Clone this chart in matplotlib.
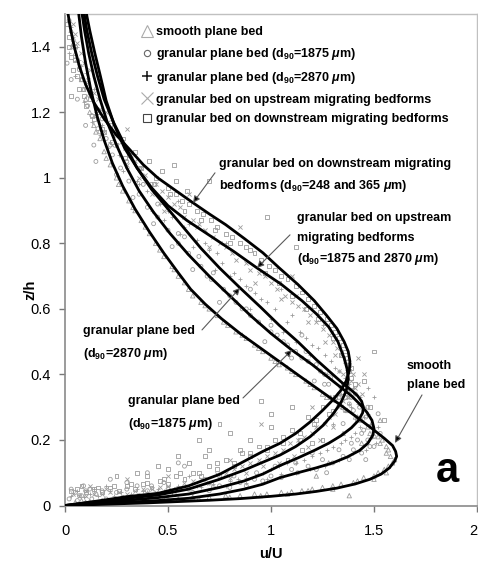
import matplotlib
matplotlib.use("Agg")
import matplotlib.pyplot as plt
from matplotlib.lines import Line2D

plt.rcParams['font.family'] = ['Liberation Sans', 'DejaVu Sans']
plt.rcParams['mathtext.fontset'] = 'custom'
plt.rcParams['mathtext.rm'] = 'Liberation Sans:bold'
plt.rcParams['mathtext.it'] = 'Liberation Sans:italic:bold'
plt.rcParams['mathtext.bf'] = 'Liberation Sans:bold'

# ---------------- fitted profile curves (u/U, z/h) ----------------
smooth_u = [0, 0.1, 0.25, 0.4, 0.55, 0.7, 0.85, 1.0, 1.12, 1.22, 1.32, 1.41, 1.48, 1.535, 1.575, 1.60, 1.61, 1.605, 1.59,
            1.55, 1.49, 1.42, 1.33, 1.24, 1.15, 1.05, 0.95, 0.85, 0.76, 0.68, 0.61, 0.55, 0.48, 0.41, 0.34, 0.28, 0.23,
            0.19, 0.155, 0.125, 0.10, 0.08, 0.063]
smooth_z = [0, 0.002, 0.005, 0.008, 0.012, 0.016, 0.021, 0.028, 0.035, 0.043, 0.053, 0.066, 0.08, 0.096, 0.115, 0.135, 0.15, 0.165, 0.183,
            0.205, 0.235, 0.268, 0.31, 0.35, 0.39, 0.435, 0.48, 0.525, 0.57, 0.615, 0.66, 0.71, 0.77, 0.835, 0.905, 0.975, 1.045,
            1.115, 1.19, 1.27, 1.35, 1.43, 1.52]

gp1875_u = [0, 0.15, 0.3, 0.45, 0.6, 0.75, 0.87, 0.96, 1.044, 1.13, 1.22, 1.30, 1.37, 1.43, 1.47, 1.495, 1.50, 1.49, 1.465,
            1.43, 1.39, 1.34, 1.28, 1.20, 1.10, 1.0, 0.90, 0.80, 0.70, 0.60, 0.51, 0.43, 0.36, 0.30, 0.25, 0.205, 0.17,
            0.14, 0.115, 0.095, 0.078]
gp1875_z = [0, 0.005, 0.01, 0.015, 0.022, 0.035, 0.05, 0.065, 0.085, 0.10, 0.115, 0.13, 0.148, 0.168, 0.19, 0.215, 0.235, 0.26, 0.285,
            0.31, 0.335, 0.36, 0.39, 0.43, 0.475, 0.525, 0.58, 0.64, 0.70, 0.765, 0.83, 0.895, 0.96, 1.03, 1.10, 1.17, 1.24,
            1.31, 1.38, 1.45, 1.52]

gp2870_u = [0, 0.15, 0.3, 0.45, 0.6, 0.75, 0.87, 0.96, 1.044, 1.13, 1.21, 1.28, 1.34, 1.39, 1.425, 1.445, 1.448, 1.44, 1.42,
            1.39, 1.35, 1.30, 1.22, 1.13, 1.04, 0.95, 0.85, 0.75, 0.66, 0.58, 0.50, 0.42, 0.35, 0.29, 0.235, 0.19, 0.158,
            0.13, 0.106, 0.088]
gp2870_z = [0, 0.008, 0.016, 0.024, 0.035, 0.055, 0.075, 0.096, 0.122, 0.145, 0.168, 0.19, 0.213, 0.237, 0.26, 0.283, 0.30, 0.318, 0.335,
            0.352, 0.372, 0.40, 0.445, 0.50, 0.55, 0.605, 0.664, 0.725, 0.785, 0.845, 0.905, 0.965, 1.03, 1.10, 1.17, 1.24, 1.31,
            1.38, 1.45, 1.52]

upstr_u = [0, 0.15, 0.3, 0.45, 0.6, 0.75, 0.87, 0.96, 1.044, 1.12, 1.19, 1.25, 1.30, 1.34, 1.365, 1.375, 1.37, 1.355, 1.325,
           1.28, 1.22, 1.15, 1.05, 0.932, 0.82, 0.70, 0.592, 0.50, 0.42, 0.35, 0.29, 0.24, 0.20, 0.172, 0.145, 0.12, 0.098]
upstr_z = [0, 0.011, 0.022, 0.032, 0.05, 0.08, 0.108, 0.132, 0.154, 0.18, 0.21, 0.243, 0.278, 0.315, 0.35, 0.385, 0.415, 0.45, 0.50,
           0.545, 0.585, 0.625, 0.675, 0.725, 0.775, 0.825, 0.87, 0.915, 0.97, 1.03, 1.09, 1.16, 1.235, 1.31, 1.38, 1.45, 1.52]

downstr_u = [0, 0.15, 0.3, 0.45, 0.6, 0.75, 0.87, 0.96, 1.044, 1.12, 1.19, 1.25, 1.30, 1.34, 1.365, 1.38, 1.383, 1.375, 1.355,
             1.32, 1.27, 1.21, 1.13, 1.04, 0.961, 0.87, 0.78, 0.70, 0.621, 0.54, 0.45, 0.38, 0.316, 0.25, 0.19, 0.14, 0.10,
             0.07, 0.045, 0.025, 0.01]
downstr_z = [0, 0.013, 0.027, 0.037, 0.06, 0.095, 0.135, 0.165, 0.19, 0.22, 0.255, 0.29, 0.322, 0.352, 0.38, 0.41, 0.44, 0.47, 0.50,
             0.54, 0.58, 0.625, 0.675, 0.725, 0.771, 0.815, 0.857, 0.89, 0.924, 0.96, 1.0, 1.04, 1.085, 1.13, 1.18, 1.23, 1.285,
             1.34, 1.40, 1.46, 1.52]

# ---------------- measured data (u/U, z/h) ----------------
tri_u = [0.03, 0.05, 0.08, 0.10, 0.14, 0.19, 0.25, 0.31, 0.37, 0.44, 0.52, 0.58, 0.66, 0.74, 0.83, 0.92, 1.00, 1.08, 1.17, 1.25,
         1.33, 1.41, 1.47, 1.52, 1.56, 1.58, 1.57, 1.52, 1.45, 1.38, 1.30, 1.20, 1.10, 0.98, 0.85, 0.70, 0.55, 0.40, 0.25, 0.12, 0.05,
         1.44, 1.35, 1.28, 1.53, 1.22,
         0.04, 0.07, 0.12, 0.17, 0.22, 0.28, 0.34, 0.41, 0.48, 0.55, 0.62, 0.70, 0.79, 0.88, 0.96, 1.04, 1.12, 1.21, 1.29, 1.37,
         1.44, 1.50, 1.54, 1.57, 1.59, 1.55, 1.50, 1.42, 1.34, 1.25, 1.15, 1.05, 0.92, 0.78, 0.62, 0.48, 0.32, 0.18, 0.08,
         0.02, 0.06, 0.09, 0.15, 0.20, 0.26, 0.33, 0.39, 0.46, 0.53, 0.60, 0.68, 0.77, 0.86, 0.94, 1.02, 1.10, 1.19, 1.27, 1.35,
         1.42, 1.48, 1.53, 1.56, 1.60, 1.56, 1.50, 1.40, 1.30, 1.18, 1.08, 0.95, 0.80, 0.65, 0.50, 0.35, 0.20, 0.10]
tri_z = [1.45, 1.38, 1.30, 1.24, 1.16, 1.08, 1.00, 0.93, 0.87, 0.80, 0.73, 0.68, 0.62, 0.58, 0.53, 0.49, 0.45, 0.42, 0.38, 0.34,
         0.31, 0.27, 0.24, 0.21, 0.18, 0.15, 0.12, 0.10, 0.085, 0.03, 0.06, 0.05, 0.042, 0.035, 0.03, 0.025, 0.02, 0.018, 0.015, 0.012, 0.01,
         0.19, 0.22, 0.13, 0.26, 0.09,
         1.41, 1.34, 1.20, 1.12, 1.04, 0.96, 0.90, 0.83, 0.76, 0.70, 0.64, 0.60, 0.55, 0.51, 0.47, 0.43, 0.40, 0.36, 0.33, 0.29,
         0.26, 0.23, 0.20, 0.17, 0.13, 0.11, 0.09, 0.075, 0.065, 0.055, 0.045, 0.04, 0.035, 0.03, 0.025, 0.02, 0.02, 0.015, 0.015,
         1.48, 1.36, 1.27, 1.14, 1.06, 0.98, 0.91, 0.85, 0.78, 0.72, 0.66, 0.61, 0.56, 0.52, 0.48, 0.44, 0.41, 0.37, 0.33, 0.30,
         0.27, 0.22, 0.19, 0.16, 0.14, 0.10, 0.08, 0.07, 0.05, 0.045, 0.035, 0.03, 0.025, 0.02, 0.02, 0.015, 0.012, 0.01]

circ_u = [0.02, 0.04, 0.05, 0.07, 0.09, 0.11, 0.13, 0.16, 0.20, 0.23, 0.27, 0.31, 0.36, 0.40, 0.45, 0.50, 0.55, 0.60, 0.66, 0.71,
          0.77, 0.83, 0.88, 0.94, 1.00, 1.06, 1.12, 1.18, 1.24, 1.29, 1.34, 1.39, 1.43, 1.46, 1.49, 1.50, 1.48, 1.44, 1.38, 1.30,
          1.22, 1.13, 1.05, 0.96, 0.88, 0.80, 0.70, 0.62, 0.53, 0.45, 0.36, 0.28, 0.20, 0.13, 0.06, 0.02,
          0.15, 0.42, 0.62, 0.90, 1.15, 1.35, 1.52, 1.42, 0.35, 0.10, 0.48, 1.40, 1.33, 1.26, 0.75, 0.58, 0.03, 0.08,
          0.05, 0.08, 0.12, 0.18, 0.22, 0.30, 0.38, 0.45, 0.55, 0.65, 0.72, 0.80, 0.90, 1.00, 1.08, 1.15, 1.22, 1.28, 1.33, 1.38,
          1.42, 1.45, 1.47, 1.40, 1.35, 1.25, 1.18, 1.10, 1.00, 0.92, 0.85, 0.75, 0.68, 0.50, 0.40, 0.25, 0.15, 0.07, 0.12, 0.30,
          0.01, 0.03, 0.06, 0.10, 0.14, 0.17, 0.25, 0.33, 0.43, 0.52, 0.58, 0.69, 0.75, 0.86, 0.97, 1.03, 1.10, 1.17, 1.21, 1.26,
          1.31, 1.36, 1.41, 1.44, 1.47, 1.50, 1.53, 1.46, 1.39, 1.33, 1.27, 1.20, 1.12, 1.02, 0.93, 0.82, 0.72, 0.60, 0.42, 0.30,
          0.18, 0.09, 0.05, 0.22, 0.40, 0.55]
circ_z = [1.48, 1.42, 1.36, 1.33, 1.27, 1.22, 1.19, 1.15, 1.12, 1.07, 1.03, 0.99, 0.95, 0.91, 0.88, 0.84, 0.80, 0.77, 0.73, 0.69,
          0.66, 0.62, 0.60, 0.56, 0.53, 0.50, 0.47, 0.44, 0.41, 0.39, 0.36, 0.33, 0.30, 0.27, 0.24, 0.21, 0.18, 0.16, 0.14, 0.13,
          0.11, 0.10, 0.085, 0.075, 0.06, 0.055, 0.045, 0.04, 0.035, 0.03, 0.03, 0.025, 0.02, 0.02, 0.015, 0.02,
          1.05, 0.98, 0.72, 0.66, 0.52, 0.25, 0.28, 0.20, 0.06, 0.045, 0.07, 0.29, 0.33, 0.37, 0.09, 0.12, 0.05, 0.03,
          1.40, 1.30, 1.25, 1.18, 1.10, 1.05, 0.98, 0.92, 0.83, 0.76, 0.71, 0.64, 0.58, 0.55, 0.49, 0.45, 0.43, 0.37, 0.34, 0.31,
          0.26, 0.23, 0.20, 0.17, 0.15, 0.14, 0.12, 0.11, 0.09, 0.08, 0.07, 0.06, 0.08, 0.05, 0.045, 0.04, 0.035, 0.03, 0.05, 0.07,
          1.35, 1.30, 1.24, 1.16, 1.10, 1.14, 1.01, 0.94, 0.86, 0.79, 0.82, 0.70, 0.62, 0.60, 0.50, 0.52, 0.45, 0.47, 0.38, 0.40,
          0.32, 0.29, 0.34, 0.22, 0.30, 0.18, 0.22, 0.14, 0.19, 0.17, 0.10, 0.16, 0.13, 0.12, 0.10, 0.09, 0.055, 0.05, 0.06, 0.05,
          0.045, 0.06, 0.04, 0.08, 0.10, 0.13]

plus_u = [0.03, 0.06, 0.08, 0.10, 0.12, 0.15, 0.18, 0.22, 0.26, 0.30, 0.35, 0.40, 0.46, 0.52, 0.58, 0.64, 0.70, 0.76, 0.82, 0.88,
          0.95, 1.02, 1.08, 1.14, 1.20, 1.26, 1.31, 1.36, 1.40, 1.43, 1.45, 1.45, 1.43, 1.39, 1.34, 1.27, 1.20, 1.12, 1.04, 0.96,
          0.88, 0.80, 0.72, 0.64, 0.56, 0.48, 0.40, 0.32, 0.24, 0.16, 0.09, 0.03,
          0.25, 0.55, 0.78, 1.05, 1.25, 1.50, 1.52, 1.30, 0.60, 0.20, 1.38, 1.47,
          0.04, 0.07, 0.10, 0.14, 0.19, 0.24, 0.32, 0.38, 0.44, 0.50, 0.60, 0.68, 0.74, 0.85, 0.92, 0.98, 1.10, 1.17, 1.23, 1.29,
          1.33, 1.38, 1.42, 1.47, 1.48, 1.41, 1.36, 1.30, 1.24, 1.16, 1.08, 1.00, 0.92, 0.84, 0.70, 0.55, 0.45, 0.35, 0.22, 0.12,
          0.02, 0.05, 0.09, 0.13, 0.17, 0.21, 0.28, 0.36, 0.42, 0.48, 0.56, 0.62, 0.73, 0.80, 0.90, 1.00, 1.06, 1.12, 1.19, 1.27,
          1.34, 1.39, 1.44, 1.49, 1.51, 1.46, 1.40, 1.33, 1.26, 1.19, 1.12, 1.05, 0.98, 0.88, 0.78, 0.66, 0.52, 0.38, 0.27, 0.14, 0.06]
plus_z = [1.46, 1.40, 1.34, 1.29, 1.25, 1.20, 1.16, 1.11, 1.07, 1.03, 0.99, 0.96, 0.92, 0.88, 0.85, 0.81, 0.78, 0.74, 0.71, 0.67,
          0.63, 0.60, 0.56, 0.53, 0.49, 0.46, 0.42, 0.39, 0.36, 0.33, 0.30, 0.27, 0.24, 0.21, 0.19, 0.17, 0.15, 0.13, 0.12, 0.10,
          0.085, 0.075, 0.065, 0.06, 0.05, 0.045, 0.04, 0.035, 0.03, 0.03, 0.025, 0.03,
          1.13, 0.93, 0.80, 0.66, 0.55, 0.33, 0.24, 0.25, 0.09, 0.06, 0.31, 0.36,
          1.43, 1.36, 1.32, 1.27, 1.19, 1.13, 1.06, 1.00, 0.95, 0.90, 0.86, 0.80, 0.77, 0.69, 0.65, 0.62, 0.58, 0.51, 0.48, 0.44,
          0.41, 0.37, 0.31, 0.28, 0.25, 0.22, 0.20, 0.18, 0.16, 0.14, 0.13, 0.11, 0.09, 0.08, 0.07, 0.06, 0.05, 0.05, 0.045, 0.035,
          1.38, 1.31, 1.23, 1.17, 1.13, 1.09, 1.02, 0.98, 0.90, 0.87, 0.83, 0.79, 0.72, 0.70, 0.60, 0.57, 0.53, 0.50, 0.46, 0.40,
          0.34, 0.30, 0.26, 0.21, 0.19, 0.17, 0.16, 0.14, 0.12, 0.11, 0.10, 0.095, 0.08, 0.07, 0.06, 0.055, 0.04, 0.045, 0.04, 0.05, 0.045]

x_u = [0.04, 0.06, 0.09, 0.11, 0.14, 0.17, 0.21, 0.25, 0.29, 0.34, 0.39, 0.44, 0.50, 0.56, 0.62, 0.68, 0.75, 0.81, 0.88, 0.94,
       1.00, 1.07, 1.13, 1.19, 1.25, 1.30, 1.34, 1.37, 1.39, 1.38, 1.35, 1.31, 1.26, 1.20, 1.13, 1.06, 0.98, 0.90, 0.82, 0.74,
       0.66, 0.58, 0.50, 0.42, 0.34, 0.26, 0.18, 0.10, 0.04,
       0.30, 0.60, 0.85, 1.10, 1.42, 1.45, 1.20, 0.95, 0.30, 0.12, 1.44, 1.33,
       0.05, 0.08, 0.12, 0.16, 0.20, 0.27, 0.32, 0.37, 0.47, 0.53, 0.65, 0.72, 0.78, 0.90, 0.97, 1.03, 1.10, 1.16, 1.22, 1.28,
       1.32, 1.36, 1.40, 1.41, 1.37, 1.33, 1.28, 1.22, 1.16, 1.09, 1.02, 0.94, 0.86, 0.78, 0.62, 0.46, 0.38, 0.22, 0.14, 0.07,
       0.03, 0.07, 0.10, 0.15, 0.19, 0.23, 0.30, 0.36, 0.42, 0.48, 0.58, 0.64, 0.70, 0.83, 0.92, 1.05, 1.12, 1.18, 1.26, 1.31,
       1.35, 1.38, 1.42, 1.36, 1.30, 1.24, 1.18, 1.11, 1.04, 0.96, 0.88, 0.80, 0.70, 0.54, 0.44, 0.30, 0.20, 0.10, 0.50, 0.80]
x_z = [1.47, 1.41, 1.35, 1.30, 1.26, 1.21, 1.17, 1.13, 1.09, 1.05, 1.01, 0.98, 0.94, 0.91, 0.87, 0.84, 0.80, 0.77, 0.74, 0.71,
       0.68, 0.64, 0.61, 0.58, 0.54, 0.50, 0.46, 0.42, 0.38, 0.35, 0.32, 0.28, 0.25, 0.22, 0.20, 0.17, 0.15, 0.13, 0.11, 0.095,
       0.08, 0.07, 0.06, 0.05, 0.045, 0.04, 0.035, 0.03, 0.035,
       1.15, 0.95, 0.85, 0.70, 0.45, 0.40, 0.30, 0.25, 0.08, 0.06, 0.34, 0.41,
       1.44, 1.38, 1.33, 1.24, 1.20, 1.11, 1.07, 1.03, 0.96, 0.92, 0.86, 0.82, 0.79, 0.72, 0.70, 0.66, 0.62, 0.60, 0.56, 0.52,
       0.48, 0.44, 0.40, 0.36, 0.33, 0.30, 0.27, 0.24, 0.21, 0.19, 0.16, 0.14, 0.12, 0.10, 0.075, 0.055, 0.05, 0.04, 0.035, 0.03,
       1.40, 1.34, 1.28, 1.19, 1.14, 1.10, 1.04, 1.00, 0.95, 0.90, 0.88, 0.85, 0.79, 0.75, 0.68, 0.63, 0.64, 0.56, 0.50, 0.46,
       0.40, 0.33, 0.37, 0.29, 0.24, 0.20, 0.18, 0.15, 0.13, 0.12, 0.10, 0.085, 0.07, 0.05, 0.04, 0.035, 0.05, 0.045, 0.09, 0.14]

sq_u = [0.01, 0.02, 0.04, 0.07, 0.10, 0.14, 0.19, 0.25, 0.31, 0.37, 0.44, 0.50, 0.57, 0.64, 0.71, 0.78, 0.85, 0.92, 0.99, 1.05,
        1.12, 1.18, 1.24, 1.29, 1.33, 1.36, 1.38, 1.39, 1.37, 1.33, 1.28, 1.21, 1.14, 1.06, 0.98, 0.90, 0.82, 0.74, 0.66, 0.58,
        0.50, 0.42, 0.34, 0.26, 0.18, 0.10, 0.03,
        0.03, 0.53, 0.54, 0.59, 0.70, 0.98, 1.12, 1.50, 0.95, 1.00, 1.10, 0.90, 0.85, 0.70, 0.65, 0.55, 0.45, 0.35, 1.55, 1.08,
        0.02, 0.05, 0.08, 0.12, 0.16, 0.22, 0.28, 0.34, 0.41, 0.47, 0.54, 0.60, 0.67, 0.74, 0.81, 0.88, 0.95, 1.02, 1.08, 1.15,
        1.21, 1.27, 1.31, 1.35, 1.37, 1.38, 1.35, 1.31, 1.25, 1.18, 1.10, 1.02, 0.94, 0.86, 0.78, 0.70, 0.62, 0.54, 0.46, 0.38,
        0.30, 0.22, 0.14, 0.06, 1.45, 1.48, 1.25, 1.15, 0.80, 0.75, 0.60, 0.40,
        0.03, 0.06, 0.09, 0.13, 0.18, 0.23, 0.29, 0.36, 0.43, 0.51, 0.58, 0.66, 0.73, 0.80, 0.90, 0.97, 1.04, 1.10, 1.17, 1.23,
        1.30, 1.34, 1.39, 1.41, 1.36, 1.30, 1.22, 1.14, 1.06, 0.98, 0.90, 0.82, 0.74, 0.65, 0.56, 0.48, 0.40, 0.32, 0.24, 0.16,
        0.08, 0.25, 0.50, 0.68, 1.00, 1.20]
sq_z = [1.47, 1.40, 1.33, 1.27, 1.22, 1.18, 1.14, 1.10, 1.07, 1.03, 1.00, 0.97, 0.93, 0.90, 0.87, 0.83, 0.80, 0.77, 0.73, 0.70,
        0.67, 0.63, 0.59, 0.55, 0.51, 0.47, 0.43, 0.39, 0.35, 0.31, 0.28, 0.25, 0.22, 0.19, 0.17, 0.15, 0.13, 0.11, 0.09, 0.08,
        0.065, 0.055, 0.05, 0.045, 0.04, 0.04, 0.045,
        1.25, 1.04, 0.99, 0.96, 0.99, 0.88, 0.79, 0.47, 0.32, 0.28, 0.30, 0.20, 0.17, 0.17, 0.20, 0.15, 0.12, 0.10, 0.26, 0.14,
        1.43, 1.36, 1.30, 1.24, 1.20, 1.16, 1.12, 1.08, 1.05, 1.02, 0.95, 0.92, 0.89, 0.85, 0.82, 0.79, 0.75, 0.72, 0.69, 0.65,
        0.61, 0.57, 0.53, 0.49, 0.45, 0.41, 0.37, 0.33, 0.30, 0.27, 0.23, 0.20, 0.18, 0.16, 0.14, 0.12, 0.10, 0.09, 0.075, 0.065,
        0.06, 0.055, 0.05, 0.05, 0.38, 0.30, 0.20, 0.17, 0.22, 0.25, 0.13, 0.09,
        1.37, 1.31, 1.25, 1.19, 1.15, 1.11, 1.06, 1.03, 0.98, 0.95, 0.90, 0.87, 0.84, 0.80, 0.78, 0.71, 0.68, 0.64, 0.60, 0.57,
        0.51, 0.46, 0.42, 0.37, 0.33, 0.29, 0.26, 0.20, 0.21, 0.18, 0.16, 0.12, 0.13, 0.10, 0.10, 0.08, 0.07, 0.065, 0.06, 0.055,
        0.06, 0.09, 0.11, 0.15, 0.24, 0.19]

legend_labels = ['smooth plane bed',
                 r'granular plane bed (d$_{90}$=1875 $\mu$m)',
                 r'granular plane bed (d$_{90}$=2870 $\mu$m)',
                 'granular bed on upstream migrating bedforms',
                 'granular bed on downstream migrating bedforms']

# annotation text lines: (text, left pixel x, centre pixel y)
note_lines = [
    ('granular bed on downstream migrating', 219, 163),
    (r'bedforms (d$_{90}$=248 and 365 $\mu$m)', 219, 184),
    ('granular bed on upstream', 297, 217),
    ('migrating bedforms', 297, 237),
    (r'(d$_{90}$=1875 and 2870 $\mu$m)', 297, 257),
    ('granular plane bed', 83, 330),
    (r'(d$_{90}$=2870 $\mu$m)', 83, 352),
    ('granular plane bed', 128, 400),
    (r'(d$_{90}$=1875 $\mu$m)', 128, 422),
    ('smooth', 407, 365),
    ('plane bed', 407, 384),
]
# leader arrows: (tail pixel, tip pixel)
note_arrows = [((215, 173), (193, 203)), ((290, 235), (257, 268)), ((202, 330), (240, 288)),
               ((243, 398), (292, 350)), ((422, 395), (395, 443))]

xticks = [0, 0.5, 1, 1.5, 2]
xticklabels = ['0', '0.5', '1', '1.5', '2']
yticks = [0, 0.2, 0.4, 0.6, 0.8, 1.0, 1.2, 1.4]
yticklabels = ['0', '0.2', '0.4', '0.6', '0.8', '1', '1.2', '1.4']

# ---------------- figure ----------------
fig = plt.figure(figsize=(4.78, 5.62), dpi=100)
ax = fig.add_axes([65/478, 56.5/562, 412/478, 491.5/562])

gray = '#9c9c9c'
ax.scatter(tri_u, tri_z, marker='^', s=10, facecolors='none', edgecolors=gray, linewidths=0.6, zorder=2)
ax.scatter(circ_u, circ_z, marker='o', s=8, facecolors='none', edgecolors=gray, linewidths=0.6, zorder=2)
ax.scatter(plus_u, plus_z, marker='+', s=10, color=gray, linewidths=0.6, zorder=2)
ax.scatter(x_u, x_z, marker='x', s=9, color=gray, linewidths=0.6, zorder=2)
ax.scatter(sq_u, sq_z, marker='s', s=8, facecolors='none', edgecolors=gray, linewidths=0.6, zorder=2)

for cu, cz in [(smooth_u, smooth_z), (gp1875_u, gp1875_z), (gp2870_u, gp2870_z),
               (upstr_u, upstr_z), (downstr_u, downstr_z)]:
    ax.plot(cu, cz, color='black', lw=2.0, solid_capstyle='round', solid_joinstyle='round', zorder=3)

ax.set_xlim(0, 2)
ax.set_ylim(0, 1.5)
ax.set_xticks(xticks)
ax.set_xticklabels(xticklabels)
ax.get_xticklabels()[-1].set_ha('right')
ax.set_yticks(yticks)
ax.set_yticklabels(yticklabels)
ax.tick_params(direction='out', length=4, width=1, color='#777', labelsize=10.5)
ax.tick_params(axis='x', pad=9)
ax.tick_params(axis='y', pad=6)
for s in ['left', 'bottom']:
    ax.spines[s].set_color('#8a8a8a')
    ax.spines[s].set_linewidth(1.2)
for s in ['top', 'right']:
    ax.spines[s].set_color('#c0c0c0')
    ax.spines[s].set_linewidth(1.0)

ax.set_xlabel('u/U', fontsize=10.5, fontweight='bold')
ax.set_ylabel('z/h', fontsize=10.5, fontweight='bold')
ax.xaxis.set_label_coords(0.5, (505.5 - 554) / 491.5)
ax.xaxis.label.set_va('center')
ax.yaxis.set_label_coords((30 - 65) / 412, (505.5 - 290) / 491.5)
ax.yaxis.label.set_va('center')

handles = [
    Line2D([], [], ls='none', marker='^', ms=8, mfc='none', mec='#aaaaaa', mew=0.8),
    Line2D([], [], ls='none', marker='o', ms=4.5, mfc='none', mec='#666666', mew=0.8),
    Line2D([], [], ls='none', marker='+', ms=7, color='#111111', mew=1.1),
    Line2D([], [], ls='none', marker='x', ms=8, color='#aaaaaa', mew=0.8),
    Line2D([], [], ls='none', marker='s', ms=5.5, mfc='none', mec='#444444', mew=0.8),
]
ax.legend(handles, legend_labels, loc='upper left', bbox_to_anchor=(0.173, 0.985), frameon=False,
          prop={'size': 9, 'weight': 'bold'}, handlelength=0.9, handletextpad=0.3, labelspacing=0.62,
          borderaxespad=0)

def pix(px, py):
    return ((px - 65) / 206.0, (505.5 - py) / 327.5)

for txt, px, py in note_lines:
    ax.text(*pix(px, py), txt, fontsize=9, fontweight='bold', ha='left', va='center_baseline', zorder=5)
for tail, tip in note_arrows:
    ax.annotate('', xy=pix(*tip), xytext=pix(*tail),
                arrowprops=dict(arrowstyle='-|>', color='#5a5a5a', fc='black', lw=0.8,
                                mutation_scale=10, shrinkA=0, shrinkB=0), zorder=5)

ax.text(*pix(447, 471), 'a', fontsize=30, fontweight='bold', ha='center', va='center')

fig.savefig('out.png', dpi=100)
